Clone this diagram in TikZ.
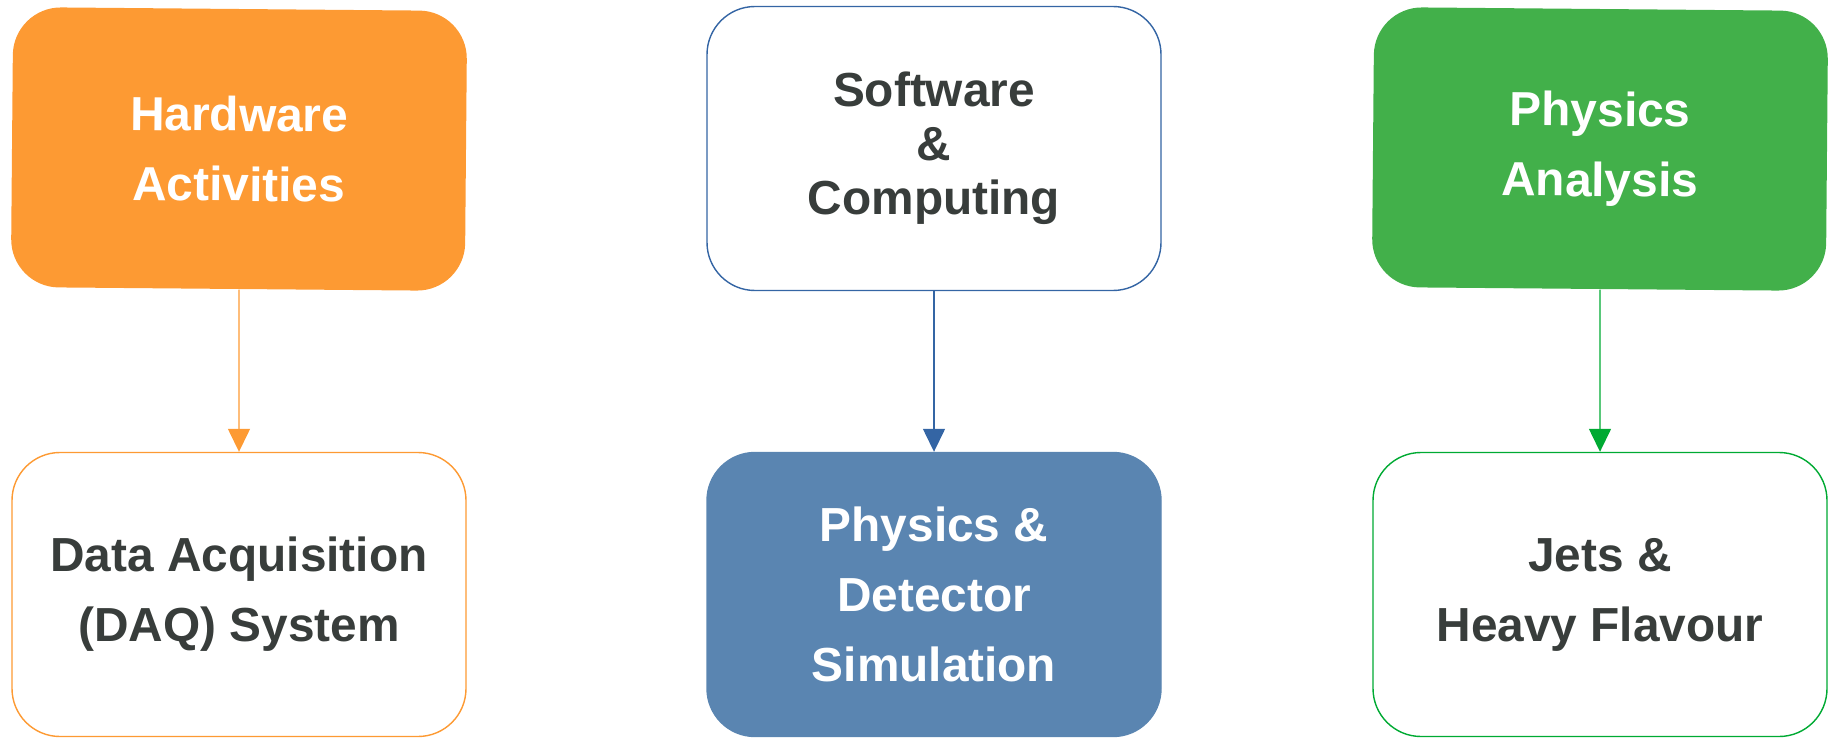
\documentclass[tikz,border=0pt]{standalone}
\usepackage{fontspec}
\setmainfont{Liberation Sans}
\usetikzlibrary{arrows.meta, positioning}

\definecolor{hwOrange}{HTML}{FD9A33}
\definecolor{swBlue}{HTML}{5A85B1}
\definecolor{swLine}{HTML}{3465A4}
\definecolor{phGreen}{HTML}{42B04A}
\definecolor{phLine}{HTML}{00AA33}
\definecolor{textGray}{HTML}{383D3B}

\begin{document}
\begin{tikzpicture}[
    block/.style={
        rectangle, line width=0.4pt,
        minimum width=4.54cm, minimum height=2.84cm,
        align=center, font=\bfseries\fontsize{13.6}{19.9}\selectfont,
        rounded corners=0.48cm, text=textGray,
    },
    filled/.style={block, text=white, minimum height=2.8cm, rotate=-0.5},
    hw/.style={filled, fill=hwOrange},
    ph/.style={filled, fill=phGreen},
    sim/.style={block, fill=swBlue, draw=swBlue, text=white},
    open/.style={block, draw=#1, fill=white},
    arrow/.style={-{Triangle[width=0.22cm, length=0.23cm]}, line width=0.4pt},
]

\useasboundingbox (0, 0) rectangle (18.3, -7.39);

% TOP ROW
\node[hw] (hwAct) at (2.39, -1.49) {Hardware\\Activities};
\node[open=swLine, font=\bfseries\fontsize{13.6}{15.4}\selectfont] (swComp) at (9.34, -1.485) {Software\\\&\\Computing};
\node[ph] (phAna) at (16.0, -1.49) {Physics\\Analysis};

% BOTTOM ROW
\node[open=hwOrange] (daq) at (2.39, -5.945) {Data Acquisition\\(DAQ) System};
\node[sim] (detSim) at (9.34, -5.945) {Physics \&\\Detector\\Simulation};
\node[open=phLine] (jets) at (16.0, -5.945) {Jets \&\\Heavy Flavour};

% ARROWS
\draw[arrow, hwOrange] (hwAct) -- (daq);
\draw[arrow, swLine] (swComp) -- (detSim);
\draw[arrow, phLine] (phAna) -- (jets);

\end{tikzpicture}
\end{document}
